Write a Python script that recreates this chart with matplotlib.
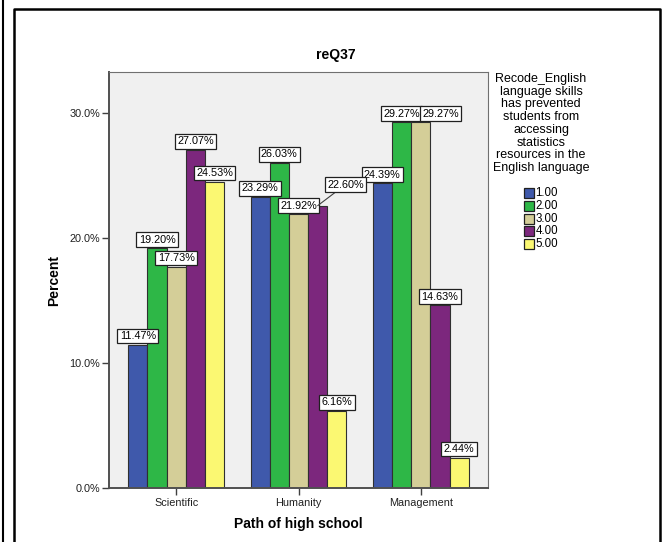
import matplotlib
matplotlib.use("Agg")
import matplotlib.pyplot as plt
from matplotlib.patches import Rectangle
from matplotlib.lines import Line2D
import numpy as np

plt.rcParams['font.family'] = ['Liberation Sans', 'DejaVu Sans']

categories = ["Scientific", "Humanity", "Management"]
series_names = ["1.00", "2.00", "3.00", "4.00", "5.00"]
values = {
    "1.00": [11.47, 23.29, 24.39],
    "2.00": [19.20, 26.03, 29.27],
    "3.00": [17.73, 21.92, 29.27],
    "4.00": [27.07, 22.60, 14.63],
    "5.00": [24.53, 6.16, 2.44],
}
colors = ["#3F59AB", "#2EB747", "#D4CE98", "#7C277D", "#FBF872"]
yticks = [0, 10, 20, 30]
legend_title = ("Recode_English\nlanguage skills\nhas prevented\nstudents from\n"
                "accessing\nstatistics\nresources in the\nEnglish language")

# labels nudged sideways to avoid collisions: (series, category) -> (dx, dy, leader line)
label_nudges = {
    ("4.00", "Humanity"): (20, 9, True),
    ("3.00", "Management"): (14.2, 0, False),
}

W, H = 664, 542
fig = plt.figure(figsize=(W / 100, H / 100), dpi=100)

# outer frames
fig.add_artist(Line2D([3.5 / W, 3.5 / W], [0, 1], color="black", lw=1.5))
fig.add_artist(Line2D([14 / W, 14 / W, 660 / W, 660 / W],
                      [0, 1 - 9 / H, 1 - 9 / H, 0], color="black", lw=1.8))

ax = fig.add_axes([109 / W, 1 - 488 / H, (488 - 109) / W, (488 - 72) / H])
ax.set_facecolor("#F0F0F0")

n = len(series_names)
bw = 0.157
x = np.arange(len(categories))
for i, name in enumerate(series_names):
    xs = x + (i - (n - 1) / 2) * bw
    ax.bar(xs, values[name], width=bw, color=colors[i], edgecolor="#303030",
           linewidth=0.8, zorder=2)
    for j, (xx, v) in enumerate(zip(xs, values[name])):
        label = f"{v:.2f}%"
        bbox = dict(boxstyle="square,pad=0.22", fc="white", ec="#202020", lw=0.9)
        dx, dy, leader = label_nudges.get((name, categories[j]), (0, 0, False))
        kw = {}
        if leader:
            kw["arrowprops"] = dict(arrowstyle="-", color="#404040", lw=0.8,
                                    shrinkA=0, shrinkB=0)
        ax.annotate(label, xy=(xx, v), xytext=(dx, 2.6 + dy), textcoords="offset points",
                    ha="center", va="bottom", fontsize=7.8, bbox=bbox, zorder=5, **kw)

ax.set_xlim(-0.55, 2.55)
ax.set_ylim(0, 33.3)
ax.set_xticks(x)
ax.set_xticklabels(categories, fontsize=7.8)
ax.set_yticks(yticks)
ax.set_yticklabels([f"{t:.1f}%" for t in yticks], fontsize=7.8)
ax.tick_params(axis="both", direction="out", length=5, width=1, color="#404040",
               labelcolor="#202020")
ax.tick_params(axis="x", pad=2)
ax.tick_params(axis="y", pad=1.5)
for side in ["top", "right"]:
    ax.spines[side].set_color("#707070")
    ax.spines[side].set_linewidth(0.8)
for side in ["left", "bottom"]:
    ax.spines[side].set_color("#505050")
    ax.spines[side].set_linewidth(1.4)

ax.set_xlabel("Path of high school", fontsize=10, fontweight="bold", labelpad=7)
ax.set_ylabel("Percent", fontsize=10, fontweight="bold", labelpad=6)
fig.text(336 / W, 1 - 55 / H, "reQ37", ha="center", va="center",
         fontsize=10, fontweight="bold")

# legend
fig.text(541 / W, 1 - 73 / H, legend_title, ha="center", va="top",
         fontsize=9, linespacing=1.08)
for i, name in enumerate(series_names):
    yc = 193 + i * 12.8
    fig.add_artist(Rectangle((523.5 / W, 1 - (yc + 5) / H), 10 / W, 10 / H,
                             facecolor=colors[i], edgecolor="#202020", lw=0.9))
    fig.text(535.5 / W, 1 - yc / H, name, ha="left", va="center", fontsize=8.3)

fig.savefig("out.png", dpi=100)
